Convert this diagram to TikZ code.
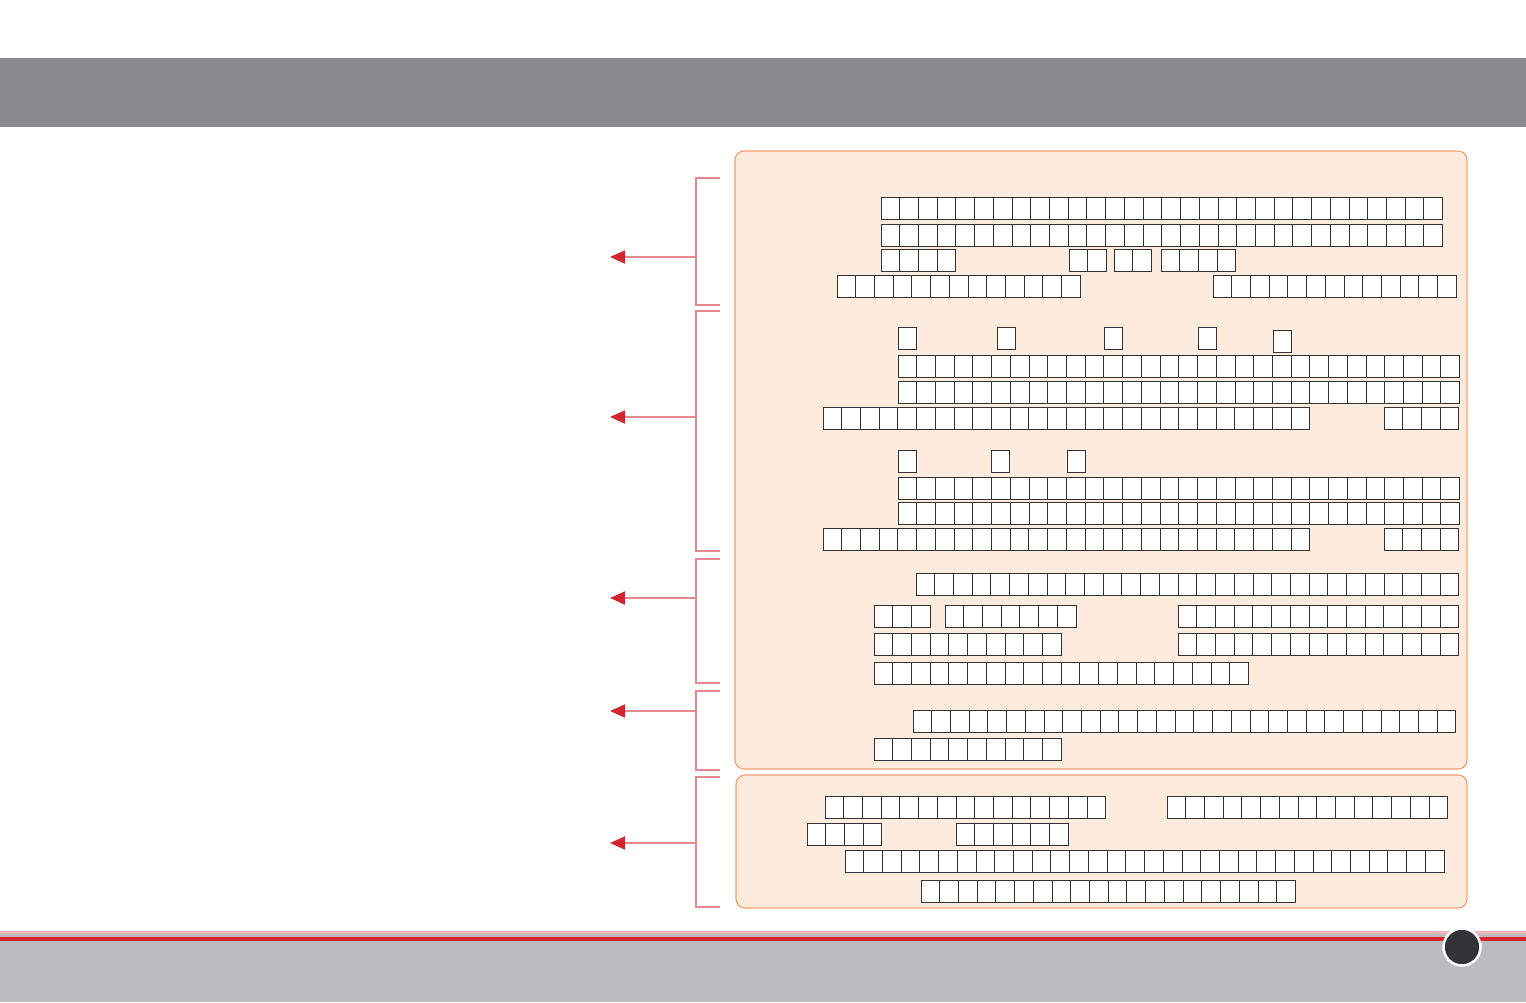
\documentclass[tikz,border=0pt]{standalone}
\usetikzlibrary{arrows.meta}
\definecolor{topgray}{HTML}{8A8B8D}
\definecolor{botgray}{HTML}{BBBCBE}
\definecolor{panelfill}{HTML}{FDEBDE}
\definecolor{paneldraw}{HTML}{F4A06E}
\definecolor{brk}{HTML}{E8878D}
\definecolor{tipred}{HTML}{D52630}
\definecolor{linered}{HTML}{D8242C}
\definecolor{linepink}{HTML}{F0B5B8}
\definecolor{dotdark}{HTML}{333336}
\tikzset{
  panel/.style={fill=panelfill,draw=paneldraw,line width=1.2pt,rounded corners=9pt},
  bracket/.style={draw=brk,line width=2pt},
  pointer/.style={draw=brk,line width=2pt,-{Triangle[length=15pt,width=13pt,color=tipred]}},
  glyph/.style={fill=white,draw=black!80,line width=0.9pt},
}
\newcommand{\glyphrow}[3]{%
  \foreach \k in {1,...,#3}{%
    \path[glyph] ({#1+(\k-1)*18.72},#2) rectangle ++(18.72,22.5);
  }}
\begin{document}
\begin{tikzpicture}[x=1pt,y=-1pt]
\useasboundingbox (0,0) rectangle (1526,1002);
% header band
\fill[topgray] (0,58) rectangle (1526,126.5);
% footer
\fill[botgray] (0,934) rectangle (1526,1002);
\fill[linepink] (0,931) rectangle (1526,934);
\fill[linered] (0,936.5) rectangle (1526,940.5);
\node[circle,fill=dotdark,draw=white,line width=2.5pt,minimum size=37pt,inner sep=0pt] (pg) at (1462,947) {};
% panels
\path[panel] (735,151) rectangle (1467,769);
\path[panel] (736,775) rectangle (1467,908);
% brackets and pointers
\foreach \i/\a/\b/\m in {1/178/305/257, 2/311/551/417, 3/559/683/598, 4/691/770/711, 5/777/907/843}{
  \draw[bracket] (720,\a) -- (696,\a) -- (696,\b) -- (720,\b);
  \coordinate (bm\i) at (696,\m);
  \coordinate (tip\i) at (610,\m);
  \draw[pointer] (bm\i) -- (tip\i);
}
% section 1
\glyphrow{881}{197}{30}
\glyphrow{881}{224}{30}
\glyphrow{881}{249}{4}
\glyphrow{1069}{249}{2}
\glyphrow{1114}{249}{2}
\glyphrow{1161}{249}{4}
\glyphrow{837}{275}{13}
\glyphrow{1213}{275}{13}
% section 2
\glyphrow{898}{327}{1}
\glyphrow{997}{327}{1}
\glyphrow{1104}{327}{1}
\glyphrow{1198}{327}{1}
\glyphrow{1273}{330}{1}
\glyphrow{898}{355}{30}
\glyphrow{898}{381}{30}
\glyphrow{823}{407}{26}
\glyphrow{1384}{407}{4}
\glyphrow{898}{450}{1}
\glyphrow{991}{450}{1}
\glyphrow{1067}{450}{1}
\glyphrow{898}{477}{30}
\glyphrow{898}{502}{30}
\glyphrow{823}{528}{26}
\glyphrow{1384}{528}{4}
% section 3
\glyphrow{916}{573}{29}
\glyphrow{874}{605}{3}
\glyphrow{945}{605}{7}
\glyphrow{1178}{605}{15}
\glyphrow{874}{633}{10}
\glyphrow{1178}{633}{15}
\glyphrow{874}{662}{20}
% section 4
\glyphrow{913}{710}{29}
\glyphrow{874}{738}{10}
% section 5
\glyphrow{825}{796}{15}
\glyphrow{1167}{796}{15}
\glyphrow{807}{823}{4}
\glyphrow{956}{823}{6}
\glyphrow{845}{850}{32}
\glyphrow{921}{880}{20}
\end{tikzpicture}
\end{document}
